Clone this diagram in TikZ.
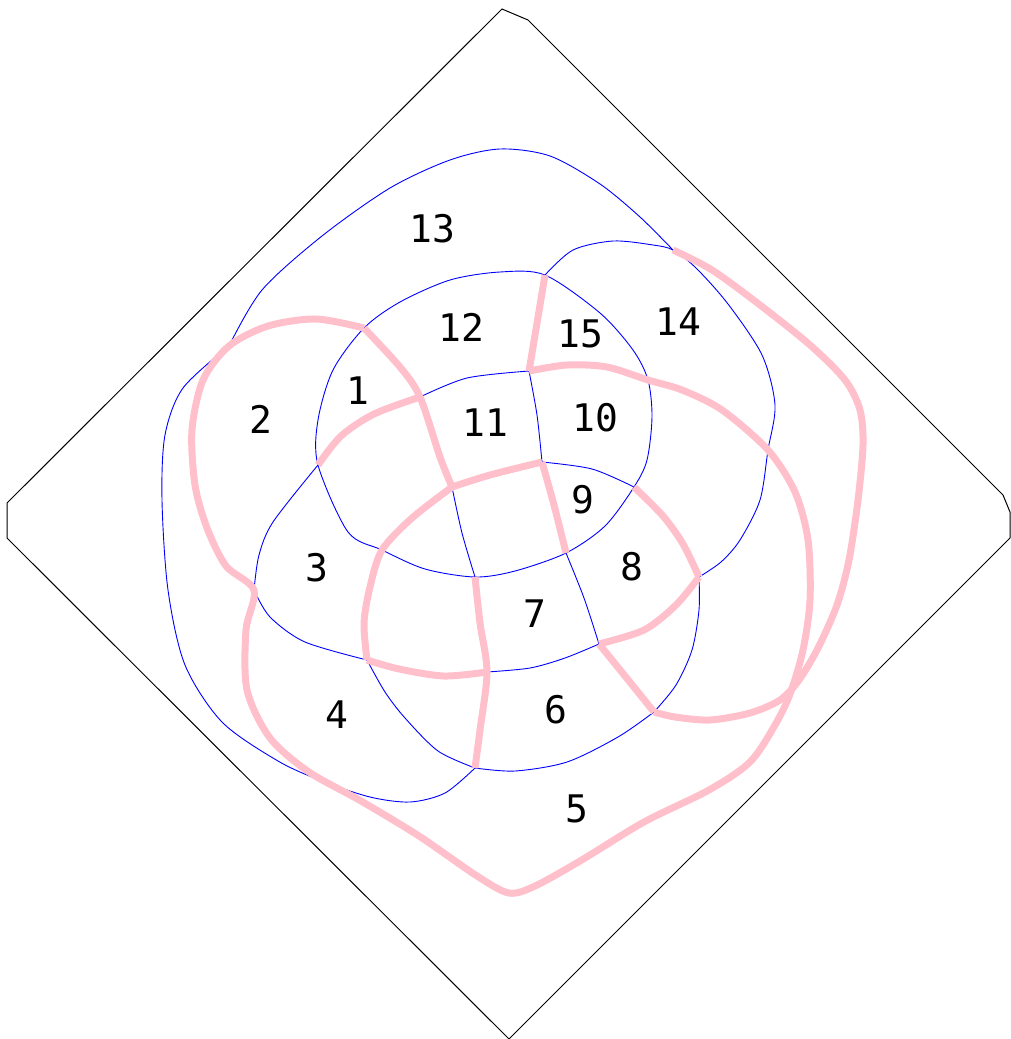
\documentclass[tikz,border=0pt]{standalone}
\usepackage{fontspec}
\newfontfamily\regionfont{DejaVu Sans Mono}
\usepackage{xcolor}
\usepackage{tikz}
\definecolor{edgepink}{RGB}{255,192,203}

\begin{document}
\begin{tikzpicture}[x=1pt, y=-1pt,
    blueedge/.style={blue, line width=0.9pt},
    pinkedge/.style={edgepink, line width=7pt, line join=round},
    region/.style={inner sep=0pt, font=\regionfont\fontsize{38}{40}\selectfont}]

    \useasboundingbox (0,0) rectangle (1010,1039);

    % Outer frame
    \draw[line width=1pt] (502,9) -- (528,20) -- (1003,495) -- (1010,512)
        -- (1010,538) -- (509,1039) -- (7,538) -- (7,503) -- cycle;

    % Junction points
    \coordinate (a) at (229,346);
    \coordinate (b) at (364,328);
    \coordinate (c) at (545,275);
    \coordinate (d) at (673,250);
    \coordinate (e) at (420,397);
    \coordinate (f) at (529,371);
    \coordinate (g) at (648,380);
    \coordinate (h) at (318,465);
    \coordinate (i) at (452,487);
    \coordinate (j) at (542,462);
    \coordinate (k) at (634,487);
    \coordinate (l) at (768,450);
    \coordinate (m) at (254,590);
    \coordinate (n) at (382,550);
    \coordinate (o) at (475,577);
    \coordinate (p) at (566,553);
    \coordinate (q) at (699,577);
    \coordinate (r) at (367,660);
    \coordinate (s) at (487,672);
    \coordinate (t) at (599,644);
    \coordinate (u) at (654,712);
    \coordinate (v) at (475,768);

    % Blue edges
    \draw[blueedge] plot[smooth] coordinates {(a) (262,290) (322,236) (390,188)
        (450,160) (500,149) (550,156) (600,184) (640,217) (d)};
    \draw[blueedge] plot[smooth] coordinates {(a) (183,388) (165,435) (162,500)
        (168,590) (185,665) (222,722) (278,761) (322,781) (370,797) (410,802)
        (445,793) (v)};
    \draw[blueedge] plot[smooth cycle] coordinates {(b) (400,302) (450,280)
        (500,272) (c) (600,313) (633,350) (g) (652,417) (647,460) (k) (605,526)
        (p) (515,571) (o) (425,569) (n) (348,532) (h) (318,420) (333,370)};
    \draw[blueedge] plot[smooth] coordinates {(c) (573,250) (613,241) (653,245)
        (d) (696,268) (728,304) (762,355) (775,405) (l) (760,500) (740,540)
        (721,562) (q)};
    \draw[blueedge] plot[smooth] coordinates {(q) (699,610) (692,650) (676,685) (u)};
    \draw[blueedge] plot[smooth] coordinates {(u) (618,737) (567,762) (515,771) (v)};
    \draw[blueedge] plot[smooth] coordinates {(r) (385,692) (405,718) (438,751) (v)};
    \draw[blueedge] plot[smooth] coordinates {(m) (270,617) (305,642) (r)};
    \draw[blueedge] plot[smooth] coordinates {(m) (259,555) (273,522) (h)};
    \draw[blueedge] plot[smooth] coordinates {(e) (467,378) (f)};
    \draw[blueedge] plot[smooth] coordinates {(f) (537,415) (j)};
    \draw[blueedge] plot[smooth] coordinates {(i) (462,533) (o)};
    \draw[blueedge] plot[smooth] coordinates {(j) (592,469) (k)};
    \draw[blueedge] plot[smooth] coordinates {(p) (584,598) (t)};
    \draw[blueedge] plot[smooth] coordinates {(s) (530,668) (565,658) (t)};

    % Pink edges
    \draw[pinkedge] plot[smooth] coordinates {(b) (400,367) (e) (440,457) (i)};
    \draw[pinkedge] plot[smooth] coordinates {(b) (316,319) (268,326) (a)
        (203,380) (192,430) (195,485) (207,528) (226,566) (m) (246,630)
        (247,690) (270,738) (309,772) (361,801) (419,836) (477,876) (509,893)
        (535,886) (580,861) (644,822) (709,790) (750,762) (775,725) (790,694)
        (803,650) (810,600) (808,540) (795,492) (l) (722,410) (682,390) (g)
        (607,367) (567,365) (f)};
    \draw[pinkedge] (c) -- (f);
    \draw[pinkedge] plot[smooth] coordinates {(e) (374,414) (341,436) (h)};
    \draw[pinkedge] plot[smooth] coordinates {(i) (490,475) (j)};
    \draw[pinkedge] plot[smooth] coordinates {(j) (554,505) (p)};
    \draw[pinkedge] plot[smooth] coordinates {(i) (412,518) (n) (370,587)
        (364,623) (r)};
    \draw[pinkedge] plot[smooth] coordinates {(r) (399,669) (444,676) (s)};
    \draw[pinkedge] plot[smooth] coordinates {(o) (480,623) (s) (480,730) (v)};
    \draw[pinkedge] plot[smooth] coordinates {(k) (663,516) (683,544) (q)};
    \draw[pinkedge] plot[smooth] coordinates {(q) (676,605) (644,630) (t)};
    \draw[pinkedge] plot[smooth] coordinates {(t) (625,676) (u)};
    \draw[pinkedge] plot[smooth] coordinates {(d) (712,270) (760,305) (810,345)
        (845,380) (860,410) (863,445) (858,500) (849,560) (837,605) (818,648)
        (799,680) (780,700) (750,713) (710,720) (675,717) (u)};

    % Region numbers
    \node[region] (lbl1) at (358,391) {1};
    \node[region] (lbl2) at (261,419) {2};
    \node[region] (lbl3) at (317,568) {3};
    \node[region] (lbl4) at (337,715) {4};
    \node[region] (lbl5) at (577,809) {5};
    \node[region] (lbl6) at (556,710) {6};
    \node[region] (lbl7) at (535,614) {7};
    \node[region] (lbl8) at (632,567) {8};
    \node[region] (lbl9) at (583,500) {9};
    \node[region] (lbl10) at (595,418) {10};
    \node[region] (lbl11) at (485,423) {11};
    \node[region] (lbl12) at (461,327) {12};
    \node[region] (lbl13) at (432,229) {13};
    \node[region] (lbl14) at (678,322) {14};
    \node[region] (lbl15) at (580,334) {15};

\end{tikzpicture}
\end{document}
